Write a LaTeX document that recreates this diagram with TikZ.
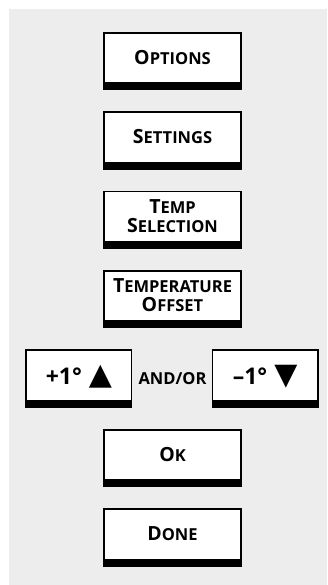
\documentclass[tikz,border=0pt]{standalone}
\usepackage{fontspec}
\setmainfont{Open Sans}
\newfontfamily\symfont{DejaVu Sans}
\usepackage{tikz}
\usetikzlibrary{positioning}
\definecolor{panelgray}{HTML}{ECEDEC}
\newcommand{\keycap}[2]{{\fontsize{19.5}{20}\selectfont #1}#2}
\newcommand{\keytri}[1]{{\symfont\fontsize{30}{30}\selectfont #1}}

\begin{document}
\begin{tikzpicture}[
  x=1pt, y=1pt,
  btn/.style={rectangle, draw=black, line width=1.8pt, fill=white,
              minimum width=137.2pt, minimum height=56.5pt, inner sep=0pt,
              align=center, text depth=8pt, font=\bfseries\fontsize{16.5}{19.5}\selectfont,
              path picture={\fill[black] (path picture bounding box.south west)
                rectangle ([yshift=7pt]path picture bounding box.south east);}},
  stepbtn/.style={btn, minimum width=105.2pt, font=\bfseries\fontsize{23}{24}\selectfont},
  joiner/.style={inner sep=0pt, minimum height=58.3pt, font=\bfseries\fontsize{16.5}{19}\selectfont}
]
  \fill[panelgray] (9,-9) rectangle (327,-585);
  \useasboundingbox (0,0) rectangle (327,-585);

  \node[btn] (options)  at (172.5,-61.2) {\keycap{O}{PTIONS}};
  \node[btn] (settings) [below=21pt of options]  {\keycap{S}{ETTINGS}};
  \node[btn] (tempsel)  [below=21pt of settings] {\keycap{T}{EMP}\\\keycap{S}{ELECTION}};
  \node[btn] (offset)   [below=21pt of tempsel]  {\keycap{T}{EMPERATURE}\\\keycap{O}{FFSET}};

  \node[joiner]  (andor) [below=21pt of offset] {AND/OR};
  \node[stepbtn] (up)    [left=6pt of andor]  {+1°\hspace{7pt}\keytri{▲}};
  \node[stepbtn] (down)  [right=5pt of andor] {–1°\hspace{7pt}\keytri{▼}};

  \node[btn] (ok)   [below=21pt of andor] {\keycap{O}{K}};
  \node[btn] (done) [below=21pt of ok]    {\keycap{D}{ONE}};
\end{tikzpicture}
\end{document}
